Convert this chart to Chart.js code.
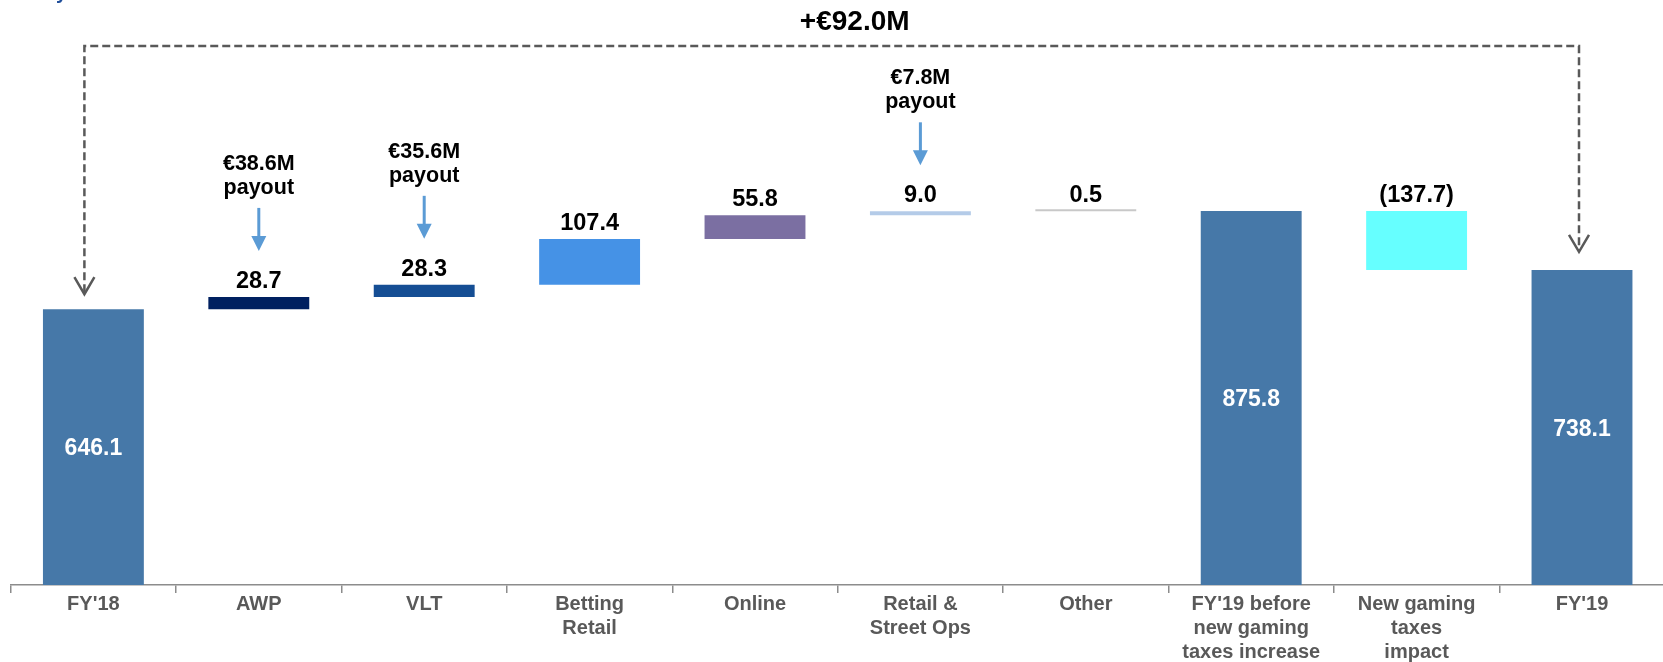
<!DOCTYPE html>
<html>
<head>
<meta charset="utf-8">
<script src="https://cdn.jsdelivr.net/npm/chart.js@4"></script>
<style>
  html, body { margin: 0; padding: 0; overflow: hidden; background: #fff; }
  #wrap { width: 1668px; height: 662px; }
</style>
</head>
<body>
<div id="wrap"><canvas id="bridgeChart" width="1668" height="662"></canvas></div>
<script>
/* #region  DATA */
const categories = [
  "FY'18",
  "AWP",
  "VLT",
  ["Betting", "Retail"],
  "Online",
  ["Retail &", "Street Ops"],
  "Other",
  ["FY'19 before", "new gaming", "taxes increase"],
  ["New gaming", "taxes", "impact"],
  "FY'19",
];
const changes = [646.1, 28.7, 28.3, 107.4, 55.8, 9.0, 0.5, 875.8, -137.7, 738.1];
const isTotal = [true, false, false, false, false, false, false, true, false, true];
const valueLabels = ["646.1", "28.7", "28.3", "107.4", "55.8", "9.0", "0.5", "875.8", "(137.7)", "738.1"];
const payouts = [null, "€38.6M", "€35.6M", null, null, "€7.8M", null, null, null, null];
const bridgeLabel = "+€92.0M";
const barColors = [
  "#4678A8",
  "#002060",
  "#154E94",
  "#4592E6",
  "#7B6FA2",
  "#B4CBE8",
  "#C8C8C8",
  "#4678A8",
  "#66FFFF",
  "#4678A8",
];
/* #endregion */

// floating bars: totals start at zero, steps start at the running total
let running = 0;
const ranges = changes.map((v, i) => {
  if (isTotal[i]) {
    running = v;
    return [0, v];
  }
  const start = running;
  running = Math.round((running + v) * 10) / 10;
  return [Math.min(start, running), Math.max(start, running)];
});

const FONT = "'Liberation Sans', Arial, sans-serif";

/* #region  ANNOTATIONS */
const annotations = {
  id: "annotations",
  afterDatasetsDraw(chart) {
    const { ctx, scales: { y } } = chart;
    const bars = chart.getDatasetMeta(0).data;
    const base = y.getPixelForValue(0);
    ctx.save();
    ctx.textAlign = "center";

    bars.forEach((bar, i) => {
      const top = y.getPixelForValue(ranges[i][1]);
      const cx = bar.x;
      if (isTotal[i]) {
        ctx.fillStyle = "#fff";
        ctx.font = "bold 23px " + FONT;
        ctx.textBaseline = "middle";
        ctx.fillText(valueLabels[i], cx, (top + base) / 2 + 2);
        return;
      }
      ctx.fillStyle = "#000";
      ctx.font = "bold 23.5px " + FONT;
      ctx.textBaseline = "alphabetic";
      ctx.fillText(valueLabels[i], cx, top - 9);

      if (payouts[i]) {
        const tip = top - 46;
        ctx.strokeStyle = "#5B9BD5";
        ctx.fillStyle = "#5B9BD5";
        ctx.lineWidth = 3;
        ctx.beginPath();
        ctx.moveTo(cx, tip - 43);
        ctx.lineTo(cx, tip - 12);
        ctx.stroke();
        ctx.beginPath();
        ctx.moveTo(cx - 7.5, tip - 15);
        ctx.lineTo(cx + 7.5, tip - 15);
        ctx.lineTo(cx, tip);
        ctx.closePath();
        ctx.fill();

        ctx.fillStyle = "#000";
        ctx.font = "bold 21.5px " + FONT;
        ctx.fillText("payout", cx, tip - 57);
        ctx.fillText(payouts[i], cx, tip - 81);
      }
    });

    // dashed bracket FY'18 -> FY'19
    const left = bars[0].x - 9;
    const right = bars[bars.length - 1].x - 3;
    const lineY = 46;
    const tipL = y.getPixelForValue(ranges[0][1]) - 15;
    const tipR = y.getPixelForValue(ranges[ranges.length - 1][1]) - 18;
    ctx.strokeStyle = "#595959";
    ctx.lineWidth = 2.5;
    ctx.setLineDash([8, 4]);
    ctx.beginPath();
    ctx.moveTo(left, tipL - 2);
    ctx.lineTo(left, lineY);
    ctx.lineTo(right, lineY);
    ctx.lineTo(right, tipR - 2);
    ctx.stroke();
    ctx.setLineDash([]);
    [[left, tipL], [right, tipR]].forEach(([ax, ay]) => {
      ctx.beginPath();
      ctx.moveTo(ax - 10, ay - 17);
      ctx.lineTo(ax, ay);
      ctx.lineTo(ax + 10, ay - 17);
      ctx.stroke();
    });

    ctx.fillStyle = "#000";
    ctx.font = "bold 28px " + FONT;
    ctx.textBaseline = "alphabetic";
    ctx.fillText(bridgeLabel, (left + right) / 2 + 23, 30);

    // clipped title descender at the top-left
    ctx.fillStyle = "#1F4E9A";
    ctx.font = "bold 20px " + FONT;
    ctx.textAlign = "left";
    ctx.fillText("y", 56, -1);

    ctx.restore();
  },
};
/* #endregion */

/* #region  CHART */
const bridgeChart = new Chart(document.getElementById("bridgeChart"), {
  type: "bar",
  data: {
    labels: categories,
    datasets: [
      {
        data: ranges,
        backgroundColor: barColors,
        borderWidth: 0,
        minBarLength: 2,
        barPercentage: 0.61,
        categoryPercentage: 1,
      },
    ],
  },
  options: {
    responsive: false,
    animation: false,
    layout: { padding: { left: 10.7, right: 3.3, top: 30, bottom: 0 } },
    plugins: {
      legend: { display: false },
      tooltip: { enabled: false },
    },
    scales: {
      x: {
        offset: true,
        grid: {
          display: true,
          offset: true,
          drawOnChartArea: false,
          drawTicks: true,
          tickLength: 8,
          color: "#8C8C8C",
          lineWidth: 1.5,
        },
        border: { display: true, color: "#8C8C8C", width: 1.5 },
        ticks: {
          color: "#595959",
          autoSkip: false,
          maxRotation: 0,
          padding: 0,
          font: { family: FONT, size: 20, weight: "bold", lineHeight: 1.18 },
        },
        afterFit(axis) {
          axis.height = 77;
        },
      },
      y: { display: false, min: 0, max: 1300 },
    },
  },
  plugins: [annotations],
});
/* #endregion */
</script>
</body>
</html>
